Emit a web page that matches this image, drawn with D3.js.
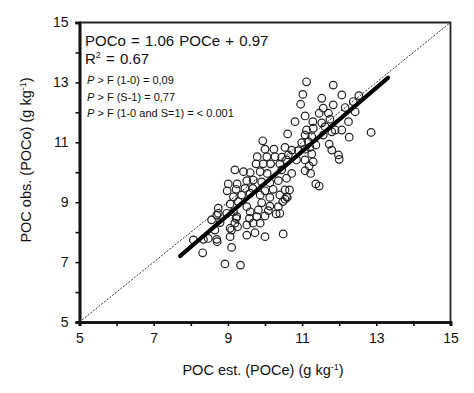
<!DOCTYPE html>
<html lang="en">
    <head>
        <meta charset="utf-8">
        <title>POC observed vs estimated</title>
        <script type="text/javascript" src="https://cdnjs.cloudflare.com/ajax/libs/d3/7.8.5/d3.min.js"></script>
        <style>
            body { margin: 0; background: #fff; }
            svg text { font-family: "Liberation Sans", Arial, sans-serif; fill: #111; }
        </style>
    </head>
    <body>
        <div id="chart"></div>
        <script type="text/javascript">
            // estimated POC (x) and observed POC (y)
            var pocEst = [10.61, 9.94, 10.00, 10.24, 10.54, 9.79, 10.05, 10.27, 10.45, 9.76,
                9.95, 10.15, 10.40, 10.58, 9.19, 9.42, 9.60, 9.87, 10.06, 10.45,
                9.01, 9.25, 9.51, 9.68, 9.91, 10.13, 10.36, 8.98, 9.22, 9.46,
                9.67, 10.00, 10.22, 10.54, 9.15, 9.37, 9.60, 9.87, 10.13, 10.40,
                10.58, 9.06, 9.28, 9.51, 9.91, 10.13, 10.36, 10.54, 8.74, 8.70,
                8.97, 9.15, 9.60, 9.82, 10.09, 10.30, 8.56, 8.79, 9.22, 9.58,
                9.78, 10.00, 8.65, 9.06, 9.26, 9.51, 9.68, 9.87, 8.07, 8.47,
                8.70, 9.06, 9.51, 9.73, 10.00, 10.49, 8.32, 9.10, 8.92, 9.34,
                11.12, 11.84, 11.02, 12.07, 12.53, 10.96, 11.53, 11.84, 12.38, 11.57,
                12.16, 12.43, 11.46, 11.71, 11.08, 10.81, 11.29, 11.53, 11.75, 12.25,
                11.12, 11.30, 11.62, 11.89, 12.07, 12.86, 12.27, 11.08, 11.26, 11.57,
                11.80, 10.99, 11.17, 11.37, 11.73, 10.72, 10.90, 11.08, 11.21, 11.80,
                11.98, 12.00, 10.63, 11.26, 10.85, 11.08, 11.30, 11.19, 10.72, 11.08,
                11.23, 10.58, 11.37, 11.46, 10.66, 10.60, 10.48, 10.40,
                8.74, 9.24, 9.19, 9.10, 8.71, 8.34];
            var pocObs = [11.28, 11.05, 10.77, 10.77, 10.83, 10.52, 10.52, 10.52, 10.50, 10.28,
                10.28, 10.28, 10.28, 10.41, 10.08, 10.02, 9.99, 10.02, 9.96, 10.08,
                9.61, 9.61, 9.72, 9.74, 9.68, 9.65, 9.72, 9.38, 9.43, 9.46,
                9.46, 9.38, 9.43, 9.41, 9.18, 9.24, 9.30, 9.24, 9.16, 9.24,
                9.18, 8.94, 9.02, 8.85, 8.98, 8.87, 8.85, 9.10, 8.80, 8.57,
                8.63, 8.68, 8.68, 8.74, 8.72, 8.61, 8.41, 8.32, 8.46, 8.46,
                8.52, 8.54, 8.07, 8.13, 8.18, 8.24, 8.30, 8.30, 7.74, 7.79,
                7.76, 7.85, 7.90, 7.98, 7.85, 7.94, 7.31, 7.49, 6.94, 6.90,
                13.02, 12.91, 12.60, 12.58, 12.56, 12.27, 12.47, 12.25, 12.36, 12.14,
                12.16, 12.02, 11.97, 11.97, 11.88, 11.69, 11.69, 11.65, 11.77, 11.69,
                11.41, 11.47, 11.52, 11.41, 11.41, 11.33, 11.17, 11.24, 11.19, 11.24,
                11.35, 10.99, 11.02, 10.91, 10.94, 10.74, 10.72, 10.77, 10.83, 10.74,
                10.58, 10.43, 10.58, 10.61, 10.41, 10.41, 10.35, 10.21, 9.96, 10.05,
                9.96, 9.80, 9.61, 9.54, 9.41, 9.16, 9.02, 8.63,
                8.63, 8.52, 8.30, 8.07, 7.68, 7.76];

            // ends of the fitted line and of the 1:1 line
            var fitEst = [7.71, 13.32];
            var fitObs = [7.20, 13.16];
            var oneToOne = [5, 15];

            var majorTicks = [5, 7, 9, 11, 13, 15];
            var minorTicks = [6, 8, 10, 12, 14];

            var statLines = ["(1-0) = 0,09", "(S-1) = 0,77", "(1-0 and S=1) = < 0.001"];

            var width = 474, height = 393;
            var plot = { left: 79.5, right: 450.5, top: 22.5, bottom: 322 };

            var svg = d3.select("#chart").append("svg")
                .attr("width", width)
                .attr("height", height);

            var x = d3.scaleLinear().domain([5, 15]).range([plot.left, plot.right]);
            var y = d3.scaleLinear().domain([5, 15]).range([plot.bottom, plot.top]);

            // thin top and right border
            svg.append("path")
                .attr("d", "M" + plot.left + "," + plot.top + "H" + plot.right + "V" + plot.bottom)
                .attr("fill", "none")
                .attr("stroke", "#222")
                .attr("stroke-width", 1.8);

            // axes: major ticks with labels, then minor ticks
            svg.append("g")
                .attr("transform", "translate(0," + plot.bottom + ")")
                .call(d3.axisBottom(x).tickValues(majorTicks).tickSize(4).tickPadding(7));
            svg.append("g")
                .attr("transform", "translate(0," + plot.bottom + ")")
                .call(d3.axisBottom(x).tickValues(minorTicks).tickSize(4).tickFormat(""));
            svg.append("g")
                .attr("transform", "translate(" + plot.left + ",0)")
                .call(d3.axisLeft(y).tickValues(majorTicks).tickSize(4).tickPadding(7));
            svg.append("g")
                .attr("transform", "translate(" + plot.left + ",0)")
                .call(d3.axisLeft(y).tickValues(minorTicks).tickSize(4).tickFormat(""));

            svg.selectAll(".domain").attr("stroke", "#111").attr("stroke-width", 2.6);
            svg.selectAll(".tick line").attr("stroke", "#111").attr("stroke-width", 1.6);
            svg.selectAll(".tick text")
                .style("font-family", "'Liberation Sans', Arial, sans-serif")
                .style("font-size", "14px")
                .attr("fill", "#111");

            // 1:1 line
            svg.append("line")
                .attr("x1", x(oneToOne[0])).attr("y1", y(oneToOne[0]))
                .attr("x2", x(oneToOne[1])).attr("y2", y(oneToOne[1]))
                .attr("stroke", "#333")
                .attr("stroke-width", 1)
                .attr("stroke-dasharray", "2,1.5");

            // points
            var points = pocEst.map(function(d, i) { return [d, pocObs[i]]; });
            svg.append("g").selectAll("circle")
                .data(points)
                .enter().append("circle")
                .attr("cx", function(d) { return x(d[0]); })
                .attr("cy", function(d) { return y(d[1]); })
                .attr("r", 3.8)
                .attr("fill", "none")
                .attr("stroke", "#222")
                .attr("stroke-width", 1.2);

            // fitted line
            svg.append("line")
                .attr("x1", x(fitEst[0])).attr("y1", y(fitObs[0]))
                .attr("x2", x(fitEst[1])).attr("y2", y(fitObs[1]))
                .attr("stroke", "#000")
                .attr("stroke-width", 4)
                .attr("stroke-linecap", "round");

            // equation and statistics
            svg.append("text")
                .attr("x", 85).attr("y", 46)
                .style("font-size", "15px")
                .style("word-spacing", "1px")
                .text("POCo = 1.06 POCe + 0.97");
            var r2 = svg.append("text")
                .attr("x", 85).attr("y", 64)
                .style("font-size", "15px")
                .style("word-spacing", "1px");
            r2.append("tspan").text("R");
            r2.append("tspan").attr("dy", -6).style("font-size", "9px").text("2");
            r2.append("tspan").attr("dy", 6).text(" = 0.67");

            var stats = svg.append("g").selectAll("text")
                .data(statLines)
                .enter().append("text")
                .attr("x", 87)
                .attr("y", function(d, i) { return 84 + i * 16.5; })
                .style("font-size", "11px");
            stats.append("tspan").style("font-style", "italic").text("P");
            stats.append("tspan").text(function(d) { return " > F " + d; });

            // axis titles
            var xTitle = svg.append("text")
                .attr("x", 263).attr("y", 375)
                .attr("text-anchor", "middle")
                .style("font-size", "14.5px");
            xTitle.append("tspan").text("POC est. (POCe) (g kg");
            xTitle.append("tspan").attr("dy", -5).style("font-size", "9px").text("-1");
            xTitle.append("tspan").attr("dy", 5).text(")");

            var yTitle = svg.append("text")
                .attr("transform", "translate(31,160) rotate(-90)")
                .attr("text-anchor", "middle")
                .style("font-size", "14.5px");
            yTitle.append("tspan").text("POC obs. (POCo) (g kg");
            yTitle.append("tspan").attr("dy", -5).style("font-size", "9px").text("-1");
            yTitle.append("tspan").attr("dy", 5).text(")");
        </script>
    </body>
</html>
